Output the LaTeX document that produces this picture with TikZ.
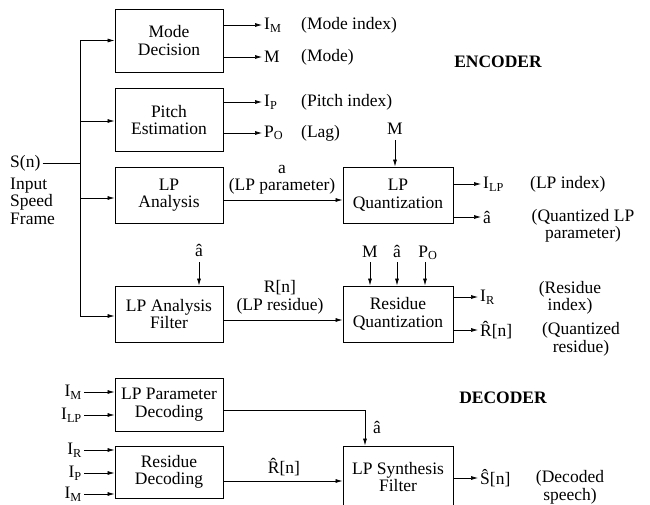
\documentclass[tikz,border=0pt]{standalone}
\usepackage{fontspec}
\setmainfont{Liberation Serif}
\usetikzlibrary{positioning,arrows.meta}

\begin{document}
\begin{tikzpicture}[x=1pt, y=-1pt,
    font=\fontsize{17.5}{17.5}\selectfont,
    block/.style={draw, line width=0.8pt, minimum width=108pt, align=center, inner sep=1pt},
    arr/.style={-{Latex[length=7pt,width=4pt]}, line width=0.7pt},
    wire/.style={line width=0.7pt},
    lbl/.style={inner sep=2pt, align=center}]
    \clip (0,0) rectangle (650,504);

    % Encoder blocks
    \node[block, minimum height=63pt] (mode) at (169,40.5) {Mode\\Decision};
    \node[block, minimum height=63pt] (pitch) at (169,120) {Pitch\\Estimation};
    \node[block, minimum height=56pt] (lpa) at (169,195) {LP\\Analysis};
    \node[block, minimum height=56pt] (filt) at (169,314) {LP Analysis\\Filter};
    \node[block, minimum width=110pt, minimum height=56pt] (lpq) at (398,195) {LP\\Quantization};
    \node[block, minimum width=110pt, minimum height=56pt] (resq) at (398,314) {Residue\\Quantization};

    % Decoder blocks
    \node[block, minimum height=53pt] (lppd) at (169,404.5) {LP Parameter\\Decoding};
    \node[block, minimum height=52pt] (rdec) at (169,472) {Residue\\Decoding};
    \node[block, minimum width=110pt, minimum height=62pt] (syn) at (398,477) {LP Synthesis\\Filter};

    \node[font=\fontsize{17.5}{17.5}\selectfont\bfseries] (enc) at (498,62) {ENCODER};
    \node[font=\fontsize{17.5}{17.5}\selectfont\bfseries] (dec) at (503,398) {DECODER};

    % Input speech
    \node[lbl, anchor=west] (sn) at (8,163) {S(n)};
    \node[lbl, anchor=west, align=left] (isf) at (8,201) {Input\\Speed\\Frame};
    \coordinate (bus) at (80,163);
    \draw[wire] (sn.east) -- (bus);
    \draw[arr] (bus) |- (mode.west);
    \draw[arr] (bus) |- ([yshift=-1pt]pitch.west);
    \draw[arr] (bus) |- ([yshift=-3pt]lpa.west);
    \draw[arr] (bus) |- ([yshift=-2pt]filt.west);

    % Mode and pitch outputs
    \node[lbl, anchor=west] (im) at (262,25) {I\textsubscript{M}};
    \node[lbl, anchor=west] (imt) at (299,25) {(Mode index)};
    \node[lbl, anchor=west] (m) at (262,57) {M};
    \node[lbl, anchor=west] (mt) at (299,57) {(Mode)};
    \node[lbl, anchor=west] (ip) at (262,102) {I\textsubscript{P}};
    \node[lbl, anchor=west] (ipt) at (299,102) {(Pitch index)};
    \node[lbl, anchor=west] (po) at (262,133) {P\textsubscript{O}};
    \node[lbl, anchor=west] (pot) at (299,133) {(Lag)};
    \draw[arr] (mode.east |- im) -- (im.west);
    \draw[arr] (mode.east |- m) -- (m.west);
    \draw[arr] (pitch.east |- ip) -- (ip.west);
    \draw[arr] (pitch.east |- po) -- (po.west);

    % LP analysis to quantization
    \node[lbl] (apar) at (282,180) {a\\(LP parameter)};
    \coordinate (lpo) at ([yshift=-5pt]lpa.east);
    \draw[arr] (lpo) -- (lpo -| lpq.west);
    \node[lbl, anchor=base] (mq) at (395,134) {M};
    \draw[arr] ([yshift=-6pt]mq.base) -- (mq.base |- lpq.north);

    % LP quantization outputs
    \node[lbl, anchor=west] (ilp) at (481,184) {I\textsubscript{LP}};
    \node[lbl, anchor=west] (ilpt) at (528,184) {(LP index)};
    \node[lbl, anchor=west] (ahq) at (481,217) {\^a};
    \node[lbl] (ahqt) at (583,226) {(Quantized LP\\parameter)};
    \draw[arr] (lpq.east |- ahq) -- (ahq.west);
    \draw[arr] (lpq.east |- ilp) -- (ilp.west);

    % LP analysis filter
    \node[lbl, anchor=base] (ahf) at (199,256) {\^a};
    \draw[arr] ([yshift=-6pt]ahf.base) -- (ahf.base |- filt.north);
    \node[lbl] (rres) at (280,297.5) {R[n]\\(LP residue)};
    \coordinate (fo) at ([yshift=-6pt]filt.east);
    \draw[arr] (fo) -- (fo -| resq.west);

    % Residue quantization inputs and outputs
    \node[lbl, anchor=base] (rm) at (370,257) {M};
    \node[lbl, anchor=base] (rah) at (397,257) {\^a};
    \node[lbl, anchor=base] (rpo) at (428,257) {P\textsubscript{O}};
    \draw[arr] ([yshift=-5pt]rm.base) -- (rm.base |- resq.north);
    \draw[arr] ([yshift=-5pt]rah.base) -- (rah.base |- resq.north);
    \draw[arr] ([xshift=-3pt,yshift=-5pt]rpo.base) -- ([xshift=-3pt]rpo.base |- resq.north);
    \node[lbl, anchor=west] (ir) at (478,297) {I\textsubscript{R}};
    \node[lbl] (irt) at (570,298) {(Residue\\index)};
    \node[lbl, anchor=west] (rh) at (478,330) {\^R[n]};
    \node[lbl] (rht) at (581,339.5) {(Quantized\\residue)};
    \draw[arr] (resq.east |- ir) -- (ir.west);
    \draw[arr] (resq.east |- rh) -- (rh.west);

    % Decoder inputs
    \node[lbl, anchor=east] (dim) at (84,392) {I\textsubscript{M}};
    \node[lbl, anchor=east] (dilp) at (84,415) {I\textsubscript{LP}};
    \node[lbl, anchor=east] (dir) at (84,450) {I\textsubscript{R}};
    \node[lbl, anchor=east] (dip) at (84,473) {I\textsubscript{P}};
    \node[lbl, anchor=east] (dim2) at (84,494) {I\textsubscript{M}};
    \draw[arr] (dim.east) -- (dim.east -| lppd.west);
    \draw[arr] (dilp.east) -- (dilp.east -| lppd.west);
    \draw[arr] (dir.east) -- (dir.east -| rdec.west);
    \draw[arr] (dip.east) -- (dip.east -| rdec.west);
    \draw[arr] (dim2.east) -- (dim2.east -| rdec.west);

    % Decoder paths
    \draw[arr] ([yshift=-5.5pt]lppd.east) -| ([xshift=-33pt]syn.north);
    \node[lbl] (ahd) at (377,427) {\^a};
    \node[lbl] (rhd) at (284,467) {\^R[n]};
    \coordinate (rdo) at ([yshift=-9pt]rdec.east);
    \draw[arr] (rdo) -- (rdo -| syn.west);
    \node[lbl, anchor=west] (sh) at (478,478) {\^S[n]};
    \node[lbl] (sht) at (570,487.5) {(Decoded\\speech)};
    \draw[arr] (syn.east |- sh) -- (sh.west);
\end{tikzpicture}
\end{document}
